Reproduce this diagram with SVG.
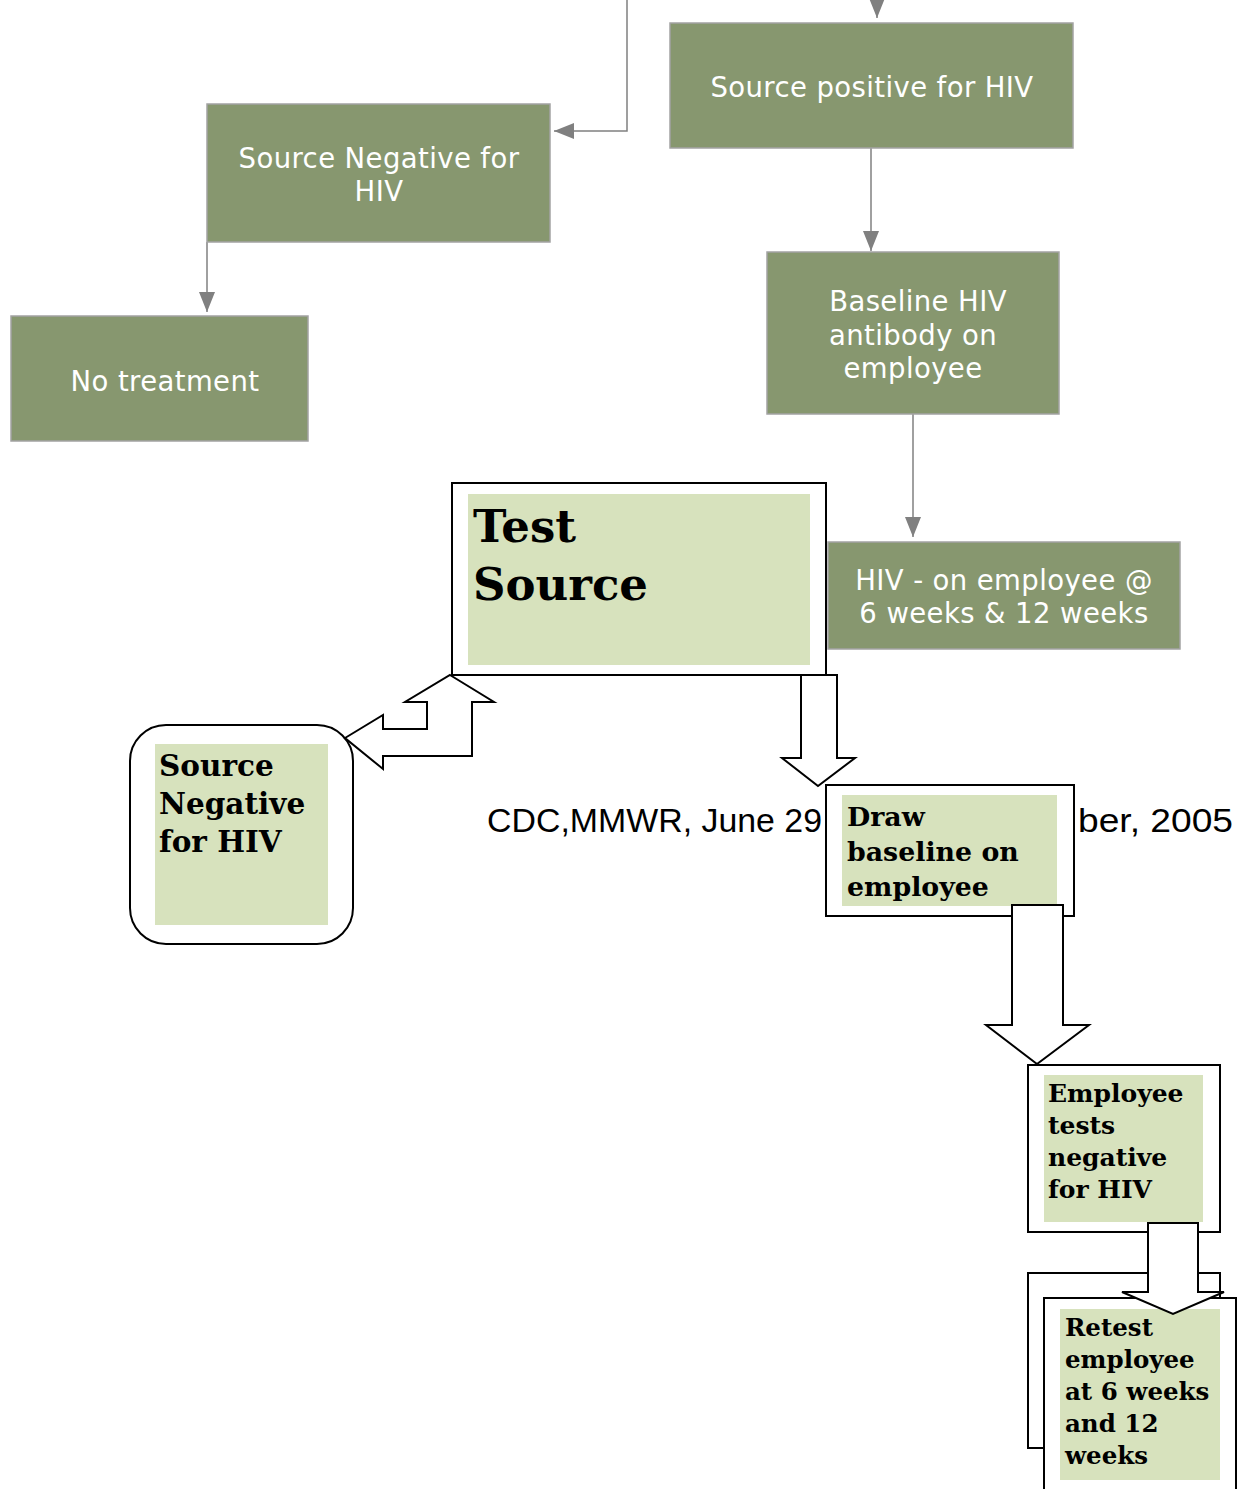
<svg xmlns="http://www.w3.org/2000/svg" width="1251" height="1489" viewBox="0 0 1251 1489">
<style>
.gbox{fill:#87976F;stroke:#A3A3A3;stroke-width:1.5}
.gt{font-family:"DejaVu Sans",Verdana,sans-serif;font-size:27.5px;letter-spacing:0.4px;fill:#ffffff;text-anchor:middle}
.conn{stroke:#808080;stroke-width:1.5;fill:none}
.wbox{fill:#ffffff;stroke:#000000;stroke-width:2}
.lg{fill:#D7E2BD}
.st{font-family:"DejaVu Serif","Liberation Serif",serif;font-weight:bold;fill:#000000}
.blk{fill:#ffffff;stroke:#000000;stroke-width:2;stroke-linejoin:miter}
.cdc{font-family:"Liberation Sans",Arial,sans-serif;font-size:33.5px;fill:#000000}
</style>
<defs>
<marker id="ahb" viewBox="0 0 10 10" refX="10" refY="5" markerWidth="20" markerHeight="16" markerUnits="userSpaceOnUse" orient="auto" preserveAspectRatio="none"><path d="M0,0 L10,5 L0,10 z" fill="#808080"/></marker>
</defs>

<g id="connectors">
<path class="conn" d="M627,0 V131 H554" marker-end="url(#ahb)"/>
<path class="conn" d="M877,0 V18" marker-end="url(#ahb)"/>
<path class="conn" d="M207,242 V312" marker-end="url(#ahb)"/>
<path class="conn" d="M871,148 V251" marker-end="url(#ahb)"/>
<path class="conn" d="M913,414 V537" marker-end="url(#ahb)"/>
</g>

<g id="node-source-positive">
<rect class="gbox" x="670" y="23" width="403" height="125"/>
<text class="gt" x="872" y="97">Source positive for HIV</text>
</g>
<g id="node-source-negative-top">
<rect class="gbox" x="207" y="104" width="343" height="138"/>
<text class="gt" x="379" y="168">Source Negative for</text>
<text class="gt" x="379" y="201">HIV</text>
</g>
<g id="node-no-treatment">
<rect class="gbox" x="11" y="316" width="297" height="125"/>
<text class="gt" x="165" y="391">No treatment</text>
</g>
<g id="node-baseline-hiv">
<rect class="gbox" x="767" y="252" width="292" height="162"/>
<text class="gt" x="918" y="311">Baseline HIV</text>
<text class="gt" x="913" y="345">antibody on</text>
<text class="gt" x="913" y="378">employee</text>
</g>
<g id="node-hiv-followup">
<rect class="gbox" x="828" y="542" width="352" height="107"/>
<text class="gt" x="1004" y="590">HIV - on employee @</text>
<text class="gt" x="1004" y="623">6 weeks &amp; 12 weeks</text>
</g>

<g id="caption">
<text class="cdc" x="487" y="832" textLength="335" lengthAdjust="spacingAndGlyphs">CDC,MMWR, June 29</text>
<text class="cdc" x="1078" y="832" textLength="155" lengthAdjust="spacingAndGlyphs">ber, 2005</text>
</g>

<g id="node-test-source">
<rect class="wbox" x="452" y="483" width="374" height="192"/>
<rect class="lg" x="468" y="494" width="342" height="171"/>
<text class="st" x="473" y="542" font-size="45">Test</text>
<text class="st" x="473" y="600" font-size="45">Source</text>
</g>

<g id="node-source-negative">
<rect class="wbox" x="130" y="725" width="223" height="219" rx="36" ry="36"/>
<rect class="lg" x="155" y="744" width="173" height="181"/>
<text class="st" x="159" y="776" font-size="29.5">Source</text>
<text class="st" x="159" y="814" font-size="29.5">Negative</text>
<text class="st" x="159" y="852" font-size="29.5">for HIV</text>
</g>

<g id="node-draw-baseline">
<rect class="wbox" x="826" y="785" width="248" height="131"/>
<rect class="lg" x="842" y="795" width="215" height="111"/>
<text class="st" x="847" y="826" font-size="26.8">Draw</text>
<text class="st" x="847" y="861" font-size="26.8">baseline on</text>
<text class="st" x="847" y="896" font-size="26.8">employee</text>
</g>

<g id="node-employee-negative">
<rect class="wbox" x="1028" y="1065" width="192" height="167"/>
<rect class="lg" x="1044" y="1075" width="159" height="147"/>
<text class="st" x="1048" y="1102" font-size="25">Employee</text>
<text class="st" x="1048" y="1134" font-size="25">tests</text>
<text class="st" x="1048" y="1166" font-size="25">negative</text>
<text class="st" x="1048" y="1198" font-size="25">for HIV</text>
</g>

<g id="node-retest">
<rect class="wbox" x="1028" y="1273" width="192" height="175"/>
<rect class="wbox" x="1044" y="1298" width="192" height="200"/>
<rect class="lg" x="1060" y="1309" width="160" height="171"/>
<text class="st" x="1065" y="1336" font-size="24.5">Retest</text>
<text class="st" x="1065" y="1368" font-size="24.5">employee</text>
<text class="st" x="1065" y="1400" font-size="24.5">at 6 weeks</text>
<text class="st" x="1065" y="1432" font-size="24.5">and 12</text>
<text class="st" x="1065" y="1464" font-size="24.5">weeks</text>
</g>

<g id="block-arrows">
<path class="blk" d="M450,675 L494,702 L472,702 L472,756 L383,756 L383,769 L345,738 L383,715 L383,729 L427,729 L427,702 L405,702 Z"/>
<path class="blk" d="M801,675 L837,675 L837,758 L855,758 L818,786 L782,758 L801,758 Z"/>
<path class="blk" d="M1012,905 L1063,905 L1063,1025 L1089,1025 L1037,1064 L986,1025 L1012,1025 Z"/>
<path class="blk" d="M1148,1223 L1198,1223 L1198,1292 L1224,1292 L1173,1314 L1122,1292 L1148,1292 Z"/>
</g>
</svg>
